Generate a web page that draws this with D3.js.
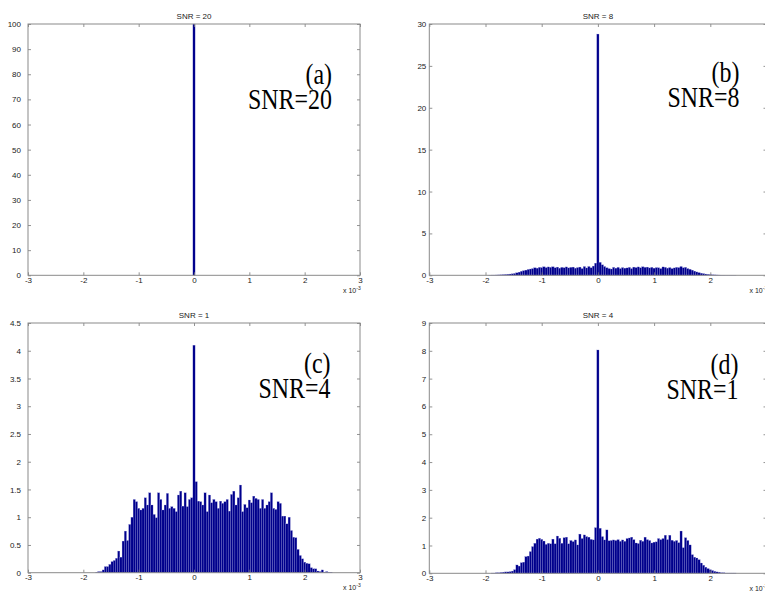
<!DOCTYPE html>
<html>
<head>
<meta charset="utf-8">
<script src="https://cdn.jsdelivr.net/npm/d3@7"></script>
<style>
  html, body { margin: 0; padding: 0; background: #fff; }
  svg { display: block; }
  .tick text { font-family: "Liberation Sans", Arial, sans-serif; font-size: 8px; fill: #222; }
  .tick line { stroke: #777; stroke-width: 0.8; }
</style>
</head>
<body>
<svg id="fig" width="765" height="592"></svg>
<script>
// Histogram bins share one width (units of 1e-3); each panel lists its bin heights
// starting at the given first bin centre.
const binWidth = 0.04;
const xTicks = [-3, -2, -1, 0, 1, 2, 3];

// SNR = 20 : everything collapses into the zero bin
const firstCenterA = 0;
const countsA = [100];
const yTicksA = [0, 10, 20, 30, 40, 50, 60, 70, 80, 90, 100];

// SNR = 8
const firstCenterB = -1.92;
const countsB = [
  0.02, 0.03, 0.03, 0.04, 0.05, 0.06, 0.08, 0.10, 0.12, 0.15,
  0.18, 0.22, 0.30, 0.38, 0.48, 0.55, 0.62, 0.70, 0.75, 0.80,
  0.90, 0.85, 0.95, 0.92, 1.02, 0.92, 1.00, 0.95, 1.02, 0.90,
  0.98, 0.85, 0.95, 0.90, 1.00, 0.88, 0.95, 0.98, 0.85, 0.92,
  0.98, 0.80, 1.05, 0.88, 1.05, 0.90, 1.10, 1.45, 28.8, 1.55,
  1.25, 1.05, 0.90, 0.80, 0.75, 0.95, 0.85, 0.95, 0.80, 0.92,
  0.85, 0.88, 0.95, 0.80, 0.98, 0.92, 1.00, 0.90, 1.02, 0.95,
  0.98, 0.88, 0.95, 0.85, 0.92, 0.90, 0.80, 1.00, 0.95, 0.85,
  0.92, 0.80, 0.88, 0.95, 0.92, 1.05, 0.90, 0.95, 0.80, 0.72,
  0.62, 0.50, 0.40, 0.32, 0.25, 0.20, 0.15, 0.11, 0.08, 0.06,
  0.05, 0.04, 0.03, 0.02, 0.02, 0.01, 0.01, 0.01, 0.01, 0.01
];
const yTicksB = [0, 5, 10, 15, 20, 25, 30];

// SNR = 1
const firstCenterC = -1.76;
const countsC = [
  0.01, 0.02, 0.02, 0.05, 0.11, 0.11, 0.15, 0.20, 0.22, 0.26,
  0.39, 0.28, 0.57, 0.75, 0.58, 0.87, 1.00, 1.32, 1.28, 1.16,
  1.13, 1.16, 1.35, 1.22, 1.44, 1.22, 1.05, 0.99, 1.44, 1.32,
  1.13, 1.22, 1.43, 1.16, 1.19, 1.16, 1.10, 1.40, 1.47, 1.20,
  1.44, 1.19, 1.32, 1.35, 4.10, 1.64, 1.29, 1.28, 1.22, 1.44,
  1.10, 1.40, 1.26, 1.32, 1.28, 1.16, 1.29, 1.25, 1.28, 1.32,
  1.11, 1.41, 1.47, 1.22, 1.35, 1.58, 1.10, 1.23, 1.17, 1.31,
  1.26, 1.38, 1.34, 1.32, 1.16, 1.32, 1.16, 1.22, 1.28, 1.44,
  1.16, 1.14, 1.28, 1.25, 1.02, 1.02, 0.88, 1.00, 0.76, 0.64,
  0.63, 0.42, 0.31, 0.25, 0.19, 0.17, 0.16, 0.09, 0.07, 0.07,
  0.03, 0.02, 0.05, 0.01, 0.02, 0.01, 0.01
];
const yTicksC = [0, 0.5, 1, 1.5, 2, 2.5, 3, 3.5, 4, 4.5];

// SNR = 4
const firstCenterD = -1.88;
const countsD = [
  0.01, 0.01, 0.02, 0.02, 0.03, 0.04, 0.05, 0.05, 0.06, 0.08,
  0.13, 0.30, 0.26, 0.38, 0.40, 0.60, 0.62, 0.78, 0.96, 1.08,
  1.23, 1.26, 1.22, 1.16, 1.04, 1.08, 1.06, 1.23, 1.06, 1.34,
  1.26, 1.08, 1.28, 1.30, 1.06, 1.18, 1.14, 1.20, 1.02, 1.41,
  1.25, 1.38, 1.32, 1.30, 1.22, 1.20, 1.64, 8.03, 1.62, 1.32,
  1.20, 1.56, 1.17, 1.18, 1.20, 1.18, 1.21, 1.15, 1.20, 1.15,
  1.25, 1.27, 1.30, 1.21, 1.09, 1.07, 1.19, 1.15, 1.30, 1.21,
  1.18, 1.09, 1.12, 1.13, 1.25, 1.21, 1.25, 1.37, 1.21, 1.37,
  1.19, 1.15, 1.18, 1.10, 1.52, 0.92, 1.28, 1.18, 1.02, 0.67,
  0.58, 0.55, 0.49, 0.37, 0.29, 0.22, 0.17, 0.13, 0.10, 0.07,
  0.05, 0.04, 0.02, 0.02, 0.01, 0.01, 0.01, 0.01, 0.01
];
const yTicksD = [0, 1, 2, 3, 4, 5, 6, 7, 8, 9];

const panels = [
  { title: "SNR = 20", tag: "(a)", snr: "SNR=20", first: firstCenterA, counts: countsA, yTicks: yTicksA,
    box: { left: 28, right: 360, top: 24, bottom: 275.3 }, labelGap: 7, tagRight: 332, tagY: 83.5 },
  { title: "SNR = 8", tag: "(b)", snr: "SNR=8", first: firstCenterB, counts: countsB, yTicks: yTicksB,
    box: { left: 429.3, right: 766.5, top: 24, bottom: 275.3 }, labelGap: 3, tagRight: 739.5, tagY: 82 },
  { title: "SNR = 1", tag: "(c)", snr: "SNR=4", first: firstCenterC, counts: countsC, yTicks: yTicksC,
    box: { left: 28, right: 360, top: 323, bottom: 572.7 }, labelGap: 7, tagRight: 330.5, tagY: 372.5 },
  { title: "SNR = 4", tag: "(d)", snr: "SNR=1", first: firstCenterD, counts: countsD, yTicks: yTicksD,
    box: { left: 429.3, right: 766.5, top: 323, bottom: 573.3 }, labelGap: 3, tagRight: 738.5, tagY: 373.5 }
];

const svg = d3.select("#fig");
const pageWidth = +svg.attr("width");
const fmt = d => String(d);

panels.forEach(p => {
  const b = p.box;
  const x = d3.scaleLinear().domain([-3, 3]).range([b.left, b.right]);
  const yMax = p.yTicks[p.yTicks.length - 1];
  const y = d3.scaleLinear().domain([0, yMax]).range([b.bottom, b.top]);
  const g = svg.append("g");

  const bins = p.counts.map((v, i) => {
    const c = p.first + i * binWidth;
    return { x0: c - binWidth / 2, x1: c + binWidth / 2, v };
  });

  // bars
  g.append("g").selectAll("rect").data(bins).join("rect")
    .attr("x", d => x(d.x0))
    .attr("width", d => x(d.x1) - x(d.x0))
    .attr("y", d => y(Math.min(d.v, yMax)))
    .attr("height", d => y(0) - y(Math.min(d.v, yMax)))
    .attr("fill", "#00008c")
    .attr("stroke", "#8c8cd8")
    .attr("stroke-width", 0.25);

  // axes with inward ticks on all four sides; x labels that fall past the page edge are left out
  const xFmt = d => (x(d) + 3 > pageWidth ? "" : fmt(d));
  const bottom = g.append("g").attr("transform", `translate(0,${b.bottom})`)
    .call(d3.axisBottom(x).tickValues(xTicks).tickFormat(xFmt).tickSize(-3).tickPadding(2));
  const top = g.append("g").attr("transform", `translate(0,${b.top})`)
    .call(d3.axisTop(x).tickValues(xTicks).tickFormat("").tickSize(-3));
  const left = g.append("g").attr("transform", `translate(${b.left},0)`)
    .call(d3.axisLeft(y).tickValues(p.yTicks).tickFormat(fmt).tickSize(-3).tickPadding(p.labelGap));
  const right = g.append("g").attr("transform", `translate(${b.right},0)`)
    .call(d3.axisRight(y).tickValues(p.yTicks).tickFormat("").tickSize(-3));
  [bottom, top, left, right].forEach(a => a.select(".domain").remove());

  g.append("rect")
    .attr("x", b.left).attr("y", b.top)
    .attr("width", b.right - b.left).attr("height", b.bottom - b.top)
    .attr("fill", "none").attr("stroke", "#8a8a8a").attr("stroke-width", 1);

  // title
  g.append("text")
    .attr("x", (b.left + b.right) / 2).attr("y", b.top - 5)
    .attr("text-anchor", "middle")
    .attr("font-family", "Liberation Sans, Arial, sans-serif")
    .attr("font-size", 8).attr("fill", "#222")
    .text(p.title);

  // exponent label
  const ex = g.append("text")
    .attr("x", b.right - 17).attr("y", b.bottom + 17.5)
    .attr("font-family", "Liberation Sans, Arial, sans-serif")
    .attr("font-size", 7).attr("fill", "#222");
  ex.append("tspan").text("x 10");
  ex.append("tspan").attr("dy", -3).attr("font-size", 5).text("-3");

  // panel annotation
  const ann = [[p.tag, p.tagY], [p.snr, p.tagY + 25]];
  ann.forEach(([t, yy]) => {
    g.append("text")
      .attr("transform", `translate(${p.tagRight},${yy}) scale(0.84,1)`)
      .attr("text-anchor", "end")
      .attr("font-family", "Liberation Serif, Times New Roman, serif")
      .attr("font-size", 28.5).attr("fill", "#000")
      .text(t);
  });
});
</script>
</body>
</html>
